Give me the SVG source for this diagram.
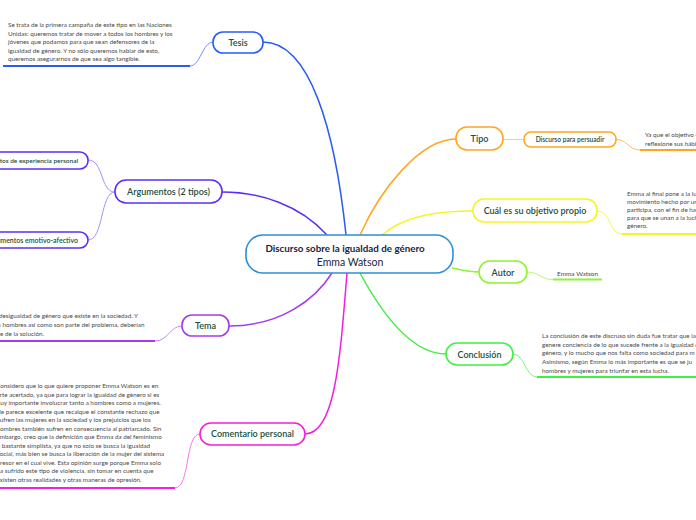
<svg xmlns="http://www.w3.org/2000/svg" width="696" height="520" viewBox="0 0 696 520">
<style>
.node{fill:#fff;stroke-width:1.6}
.lbl{font-family:Lato,"Open Sans","Liberation Sans",sans-serif;font-size:9px;font-weight:600;fill:#1c4e40;text-anchor:middle}
.leaf{font-family:Lato,"Open Sans","Liberation Sans",sans-serif;font-size:6.3px;fill:#4a4a4a}
.con{fill:none;stroke-width:1.5}
.sub{fill:none;stroke-width:1}
.ul{fill:none;stroke-width:2}
</style>
<rect width="696" height="520" fill="#fff"/>
<g id="connectors">
<path class="con" stroke="#2a5cf5" d="M346,235 C335,130 310,42 263,42"/>
<path class="con" stroke="#5c2ef5" d="M327,235 C300,205 260,192 222,192"/>
<path class="con" stroke="#a33cf0" d="M332,273 C315,300 280,326 229,326"/>
<path class="con" stroke="#f020e0" d="M347,273 C340,360 335,434 305,434"/>
<path class="con" stroke="#ffa520" d="M360,235 C380,190 420,139 456,139"/>
<path class="con" stroke="#f5f520" d="M382,235 C405,215 440,211 473,211"/>
<path class="con" stroke="#8af530" d="M452,268 C462,270 468,272 479,272"/>
<path class="con" stroke="#40f040" d="M360,273 C380,310 410,354 446,354"/>
<path class="sub" stroke="#7090f5" d="M190,66 C200,66 203,42 213,42"/>
<path class="sub" stroke="#a990f5" d="M115,192 C100,192 104,160 88,160"/>
<path class="sub" stroke="#a990f5" d="M115,192 C100,192 104,240 88,240"/>
<path class="sub" stroke="#c88af5" d="M155,341 C168,341 170,326 182,326"/>
<path class="sub" stroke="#f57ae8" d="M175,488 C190,488 185,434 200,434"/>
<path class="sub" stroke="#ffd08a" d="M503,139.5 H524"/>
<path class="sub" stroke="#ffc060" d="M616,139.5 C628,139.5 628,150 640,150"/>
<path class="sub" stroke="#f5f560" d="M597,211 C612,211 608,234 622,234"/>
<path class="sub" stroke="#b8f580" d="M527,272 C540,272 540,279.5 553,279.5"/>
<path class="sub" stroke="#80f580" d="M513,354 C525,354 525,377 537,377"/>
<path class="ul" stroke="#2a5cf5" d="M3,66 H190"/>
<path class="ul" stroke="#a33cf0" d="M0,341 H155"/>
<path class="ul" stroke="#f020e0" d="M0,488 H175"/>
<path class="ul" stroke="#ffa520" d="M640,150 H696"/>
<path class="ul" stroke="#f5f520" d="M622,234 H696"/>
<path class="ul" stroke="#8af530" d="M553,279.5 H602"/>
<path class="ul" stroke="#40f040" d="M537,377 H696"/>
</g>
<g id="center">
<rect class="node" x="246" y="235" width="207" height="38" rx="17" stroke="#2e8ed6"/>
<text x="345" y="252" font-family="Lato,'Open Sans',sans-serif" font-size="9.8" font-weight="700" fill="#1a2545" text-anchor="middle">Discurso sobre la igualdad de género</text>
<text x="350" y="265.5" font-family="Lato,'Open Sans',sans-serif" font-size="10.5" fill="#1a2545" text-anchor="middle">Emma Watson</text>
</g>
<g id="tesis">
<rect class="node" x="213" y="32" width="50" height="21" rx="10" stroke="#2a5cf5"/>
<text class="lbl" x="238" y="45.5">Tesis</text>
</g>
<g id="tesis-leaf">
<text class="leaf" x="8"><tspan x="8" y="27">Se trata de la primera campaña de este tipo en las Naciones</tspan><tspan x="8" y="35.5">Unidas: queremos tratar de mover a todos los hombres y los</tspan><tspan x="8" y="44">jóvenes que podamos para que sean defensores de la</tspan><tspan x="8" y="52.5">igualdad de género. Y no sólo queremos hablar de esto,</tspan><tspan x="8" y="61">queremos asegurarnos de que sea algo tangible.</tspan></text>
</g>
<g id="argumentos">
<rect class="node" x="115" y="180" width="107" height="23" rx="11" stroke="#5c2ef5"/>
<text class="lbl" x="168.5" y="194.5" font-weight="400">Argumentos (2 tipos)</text>
</g>
<g id="arg-experiencia">
<rect class="node" x="-40" y="152" width="128" height="17" rx="8" stroke="#5c2ef5" stroke-width="1.3"/>
<text class="lbl" x="78" y="163" style="font-size:6.5px;text-anchor:end">Argumentos de experiencia personal</text>
</g>
<g id="arg-emotivo">
<rect class="node" x="-40" y="232" width="128" height="16" rx="8" stroke="#5c2ef5" stroke-width="1.3"/>
<text class="lbl" x="78" y="242.5" style="font-size:7px;text-anchor:end">Argumentos emotivo-afectivo</text>
</g>
<g id="tema">
<rect class="node" x="182" y="315" width="47" height="21" rx="10" stroke="#a33cf0"/>
<text class="lbl" x="205.5" y="328.5">Tema</text>
</g>
<g id="tema-leaf">
<text class="leaf"><tspan x="-9" y="318">La desigualdad de género que existe en la sociedad. Y</tspan><tspan x="-7" y="327">los hombres así como son parte del problema, deberían</tspan><tspan x="-21" y="336">ser parte de la solución.</tspan></text>
</g>
<g id="comentario">
<rect class="node" x="200" y="423" width="105" height="22" rx="11" stroke="#f020e0"/>
<text class="lbl" x="252.5" y="437">Comentario personal</text>
</g>
<g id="comentario-leaf">
<text class="leaf"><tspan x="-4" y="388">Considero que lo que quiere proponer Emma Watson es en</tspan><tspan x="-7" y="396.5">parte acertado, ya que para lograr la igualdad de género si es</tspan><tspan x="-5" y="405">muy importante involucrar tanto a hombres como a mujeres.</tspan><tspan x="-5" y="413.5">Me parece excelente que recalque el constante rechazo que</tspan><tspan x="-3" y="422">sufren las mujeres en la sociedad y los prejuicios que los</tspan><tspan x="-3.5" y="430.5">hombres también sufren en consecuencia al patriarcado. Sin</tspan><tspan x="-3.5" y="439">embargo, creo que la definición que Emma da del feminismo</tspan><tspan x="-6" y="447.5">es bastante simplista, ya que no solo se busca la igualdad</tspan><tspan x="-3" y="456">social, más bien se busca la liberación de la mujer del sistema</tspan><tspan x="-7" y="464.5">opresor en el cual vive. Esta opinión surge porque Emma solo</tspan><tspan x="-3.5" y="473">ha sufrido este tipo de violencia, sin tomar en cuenta que</tspan><tspan x="-3.5" y="481.5">existen otras realidades y otras maneras de opresión.</tspan></text>
</g>
<g id="tipo">
<rect class="node" x="456" y="127" width="47" height="23" rx="11" stroke="#ffa520"/>
<text class="lbl" x="479.5" y="142">Tipo</text>
</g>
<g id="persuadir">
<rect class="node" x="524" y="132" width="92" height="15" rx="7" stroke="#ffa520" stroke-width="1.3"/>
<text class="lbl" x="570" y="142.3" style="font-size:6.6px">Discurso para persuadir</text>
</g>
<g id="tipo-leaf">
<text class="leaf"><tspan x="645" y="137">Ya que el objetivo es que</tspan><tspan x="645" y="146">reflexione sus hábitos</tspan></text>
</g>
<g id="objetivo">
<rect class="node" x="473" y="199" width="124" height="23" rx="11" stroke="#f5f520"/>
<text class="lbl" x="535" y="214">Cuál es su objetivo propio</text>
</g>
<g id="objetivo-leaf">
<text class="leaf"><tspan x="627" y="195.5">Emma al final pone a la luz</tspan><tspan x="627" y="203.5">movimiento hecho por un</tspan><tspan x="627" y="211.5">participa, con el fin de hacer</tspan><tspan x="627" y="219.5">para que se unan a la lucha</tspan><tspan x="627" y="228">género.</tspan></text>
</g>
<g id="autor">
<rect class="node" x="479" y="261" width="48" height="22" rx="11" stroke="#8af530"/>
<text class="lbl" x="503" y="275.5">Autor</text>
</g>
<g id="autor-leaf">
<text class="leaf" x="557" y="276" style="font-size:6.5px">Emma Watson</text>
</g>
<g id="conclusion">
<rect class="node" x="446" y="343" width="67" height="22" rx="11" stroke="#40f040"/>
<text class="lbl" x="479.5" y="357.5">Conclusión</text>
</g>
<g id="conclusion-leaf">
<text class="leaf"><tspan x="542" y="338">La conclusión de este discruso sin duda fue tratar que la</tspan><tspan x="542" y="346.5">genere conciencia de lo que sucede frente a la igualdad de</tspan><tspan x="542" y="355">género, y lo mucho que nos falta como sociedad para m</tspan><tspan x="542" y="363.5">Asimismo, según Emma lo más importante es que se ju</tspan><tspan x="542" y="372.5">hombres y mujeres para triunfar en esta lucha.</tspan></text>
</g>
</svg>
